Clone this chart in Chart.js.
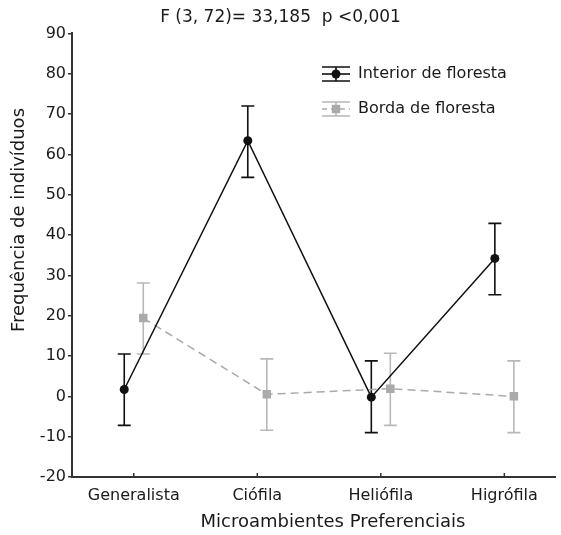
<!DOCTYPE html>
<html lang="pt">
<head>
  <meta charset="UTF-8">
  <title>Microambientes Preferenciais</title>
  <script src="https://cdn.jsdelivr.net/npm/chart.js"></script>
  <style>
    body { margin: 0; background: #fff; }
  </style>
</head>
<body>
  <canvas id="grafico" width="561" height="535"></canvas>

  <script>
    // Dados
    const categorias = ['Generalista', 'Ciófila', 'Heliófila', 'Higrófila'];
    const yTicks = [-20, -10, 0, 10, 20, 30, 40, 50, 60, 70, 80, 90];

    const interiorMedia = [1.7, 63.4, -0.2, 34.2];
    const interiorSup = [10.5, 72.0, 8.8, 42.9];
    const interiorInf = [-7.2, 54.3, -9.0, 25.2];

    const bordaMedia = [19.4, 0.5, 1.9, 0.0];
    const bordaSup = [28.1, 9.3, 10.7, 8.8];
    const bordaInf = [10.5, -8.4, -7.2, -9.0];

    const FONTE = "'DejaVu Sans', sans-serif";
    const desloc = 0.077; // afastamento das séries em torno da categoria

    const series = [
      { nome: 'Interior de floresta', media: interiorMedia, sup: interiorSup, inf: interiorInf,
        dx: -desloc, cor: '#111', corErro: '#111', estilo: 'circle', raio: 4.5, tracejado: [] },
      { nome: 'Borda de floresta', media: bordaMedia, sup: bordaSup, inf: bordaInf,
        dx: desloc, cor: '#aaa', corErro: '#b8b8b8', estilo: 'rect', raio: 6, tracejado: [8, 5] }
    ];

    const extras = {
      id: 'extras',
      beforeDatasetsDraw(chart) {
        const ctx = chart.ctx;
        const x = chart.scales.x, y = chart.scales.y;
        ctx.save();
        series.forEach(s => {
          ctx.strokeStyle = s.corErro;
          ctx.lineWidth = 1.6;
          s.media.forEach((m, j) => {
            const px = x.getPixelForValue(j + s.dx);
            const yt = y.getPixelForValue(s.sup[j]);
            const yb = y.getPixelForValue(s.inf[j]);
            ctx.beginPath();
            ctx.moveTo(px, yt); ctx.lineTo(px, yb);
            ctx.moveTo(px - 6.5, yt); ctx.lineTo(px + 6.5, yt);
            ctx.moveTo(px - 6.5, yb); ctx.lineTo(px + 6.5, yb);
            ctx.stroke();
          });
        });
        ctx.restore();
      },
      afterDraw(chart) {
        const ctx = chart.ctx;
        const area = chart.chartArea;
        const x = chart.scales.x;
        ctx.save();

        // marcas do eixo x (para dentro)
        ctx.strokeStyle = '#333';
        ctx.lineWidth = 1.5;
        categorias.forEach((c, i) => {
          const px = x.getPixelForValue(i);
          ctx.beginPath();
          ctx.moveTo(px, area.bottom);
          ctx.lineTo(px, area.bottom - 4);
          ctx.stroke();
        });

        // títulos dos eixos
        ctx.fillStyle = '#1a1a1a';
        ctx.font = '18px ' + FONTE;
        ctx.textAlign = 'center';
        ctx.textBaseline = 'middle';
        ctx.fillText('Microambientes Preferenciais', 333, 522);
        ctx.save();
        ctx.translate(19, 220);
        ctx.rotate(-Math.PI / 2);
        ctx.fillText('Frequência de indivíduos', 0, 0);
        ctx.restore();

        // legenda
        const lx0 = 322, lx1 = 350, lxc = 336;
        [74, 109].forEach((ly, k) => {
          const s = series[k];
          ctx.strokeStyle = s.corErro;
          ctx.lineWidth = 1.6;
          ctx.beginPath();
          ctx.moveTo(lx0, ly - 7); ctx.lineTo(lx1, ly - 7);
          ctx.moveTo(lx0, ly + 7); ctx.lineTo(lx1, ly + 7);
          ctx.moveTo(lxc, ly - 7); ctx.lineTo(lxc, ly + 7);
          ctx.stroke();
          ctx.strokeStyle = s.cor;
          ctx.setLineDash(s.tracejado.length ? [5, 4] : []);
          ctx.beginPath();
          ctx.moveTo(lx0, ly); ctx.lineTo(lx1, ly);
          ctx.stroke();
          ctx.setLineDash([]);
          ctx.fillStyle = s.cor;
          if (s.estilo === 'circle') {
            ctx.beginPath();
            ctx.arc(lxc, ly, s.raio, 0, Math.PI * 2);
            ctx.fill();
          } else {
            ctx.fillRect(lxc - 4.2, ly - 4.2, 8.4, 8.4);
          }
          ctx.fillStyle = '#1a1a1a';
          ctx.font = '16px ' + FONTE;
          ctx.textAlign = 'left';
          ctx.fillText(s.nome, 358, ly);
        });
        ctx.restore();
      }
    };

    const ctx = document.getElementById('grafico').getContext('2d');
    new Chart(ctx, {
      type: 'line',
      data: {
        datasets: series.map(s => ({
          label: s.nome,
          data: s.media.map((m, j) => ({ x: j + s.dx, y: m })),
          borderColor: s.cor,
          backgroundColor: s.cor,
          borderWidth: 1.5,
          borderDash: s.tracejado,
          pointStyle: s.estilo,
          pointRadius: s.raio,
          pointBorderWidth: 0,
          pointHoverRadius: s.raio,
          tension: 0
        }))
      },
      options: {
        responsive: false,
        animation: false,
        layout: { padding: 0 },
        plugins: {
          legend: { display: false },
          tooltip: { enabled: false },
          title: {
            display: true,
            text: 'F (3, 72)= 33,185  p <0,001',
            color: '#1a1a1a',
            font: { family: FONTE, size: 17, weight: 'normal' },
            padding: { top: 7, bottom: 6 }
          }
        },
        scales: {
          x: {
            type: 'linear',
            min: -0.5,
            max: 3.41,
            afterFit(scale) { scale.height = 58; },
            afterBuildTicks(scale) { scale.ticks = categorias.map((c, i) => ({ value: i })); },
            grid: { display: false, drawTicks: false },
            border: { display: true, color: '#333', width: 2 },
            ticks: {
              padding: 9,
              color: '#1a1a1a',
              font: { family: FONTE, size: 16 },
              callback: v => categorias[v]
            }
          },
          y: {
            min: -20,
            max: 90,
            afterFit(scale) { scale.width = 72; },
            afterBuildTicks(scale) { scale.ticks = yTicks.map(v => ({ value: v })); },
            grid: { display: true, drawOnChartArea: false, drawTicks: true, tickLength: 4, color: '#333', lineWidth: 1.5 },
            border: { display: true, color: '#333', width: 2 },
            ticks: {
              padding: 2,
              color: '#1a1a1a',
              font: { family: FONTE, size: 16 }
            }
          }
        }
      },
      plugins: [extras]
    });
  </script>
</body>
</html>
